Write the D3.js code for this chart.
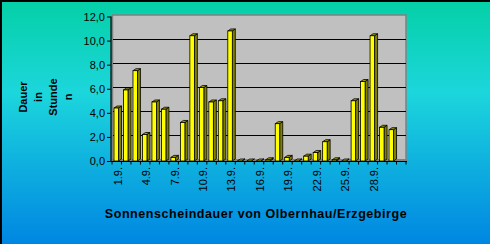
<!DOCTYPE html>
<html>
<head>
<meta charset="utf-8">
<script src="https://cdn.jsdelivr.net/npm/d3@7"></script>
<style>
  body { margin: 0; padding: 0; overflow: hidden; }
  svg { display: block; font-family: "Liberation Sans", Arial, sans-serif; }
</style>
</head>
<body>
<script>
// days of september (31st slot is empty in the original)
const days = ['1.9.', '2.9.', '3.9.', '4.9.', '5.9.', '6.9.', '7.9.', '8.9.', '9.9.', '10.9.',
  '11.9.', '12.9.', '13.9.', '14.9.', '15.9.', '16.9.', '17.9.', '18.9.', '19.9.', '20.9.',
  '21.9.', '22.9.', '23.9.', '24.9.', '25.9.', '26.9.', '27.9.', '28.9.', '29.9.', '30.9.', '']

// sunshine hours per day
const hours = [4.4, 5.9, 7.5, 2.2, 4.9, 4.3, 0.3, 3.2, 10.4, 6.1,
  4.9, 5.0, 10.8, 0.0, 0.0, 0.0, 0.1, 3.1, 0.3, 0.0,
  0.4, 0.7, 1.6, 0.1, 0.0, 5.0, 6.6, 10.4, 2.8, 2.6, null]

const yTicks = [0, 2, 4, 6, 8, 10, 12]
const yTitle = ['Dauer', 'in', 'Stunde', 'n']
const title = 'Sonnenscheindauer von Olbernhau/Erzgebirge'

const w = 490
const h = 244

const svg = d3.select('body')
    .append('svg')
    .attr('width', w)
    .attr('height', h)

// background gradient
const grad = svg.append('defs').append('linearGradient')
    .attr('id', 'bg')
    .attr('x1', 0).attr('y1', 0).attr('x2', 0).attr('y2', 1)
grad.append('stop').attr('offset', '0%').attr('stop-color', '#04d0a6')
grad.append('stop').attr('offset', '38%').attr('stop-color', '#1cd6dc')
grad.append('stop').attr('offset', '100%').attr('stop-color', '#0086e2')

svg.append('rect')
    .attr('width', w).attr('height', h)
    .style('fill', 'url(#bg)')

// black edge on the top and left
svg.append('path')
    .attr('d', `M1,${h} V1 H${w}`)
    .style('fill', 'none')
    .style('stroke', 'black')
    .style('stroke-width', 2)

// scales
const x = d3.scaleBand().domain(days).range([112, 406])
const y = d3.scaleLinear().domain([0, 12]).range([161, 16.5])

const dx = 3, dy = 2

// back wall and floor
svg.append('rect')
    .attr('x', 112.5).attr('y', y(12) - 1.5)
    .attr('width', 406 - 112.5).attr('height', y(0) - y(12) + 1.5)
    .style('fill', '#c0c0c0')
    .style('stroke', '#808080')
    .style('stroke-width', 1.5)
svg.append('rect')
    .attr('x', 111).attr('y', y(12))
    .attr('width', 2).attr('height', y(0) - y(12))
    .style('fill', '#808080')
svg.append('rect')
    .attr('x', 111).attr('y', y(0) - 2)
    .attr('width', 296).attr('height', 2)
    .style('fill', '#808080')

// gridlines
svg.selectAll('line.grid')
    .data(yTicks.filter(d => d > 0 && d < 12))
    .enter()
    .append('line')
    .attr('class', 'grid')
    .attr('x1', 113).attr('x2', 406)
    .attr('y1', d => Math.round(y(d)) - 1.5)
    .attr('y2', d => Math.round(y(d)) - 1.5)
    .style('stroke', 'black')
    .style('stroke-width', 1.2)

// 3d bars
const bars = svg.selectAll('g.bar')
    .data(days.map((d, i) => ({ day: d, v: hours[i] })).filter(d => d.v !== null))
    .enter()
    .append('g')
    .attr('class', 'bar')

const fw = 4.5
bars.append('path')
    .attr('d', d => {
        const x0 = x(d.day) + 2 + fw, yt = y(d.v), yb = y(0)
        return `M${x0},${yt} L${x0 + dx},${yt - dy} L${x0 + dx},${yb - dy} L${x0},${yb} Z`
    })
    .style('fill', '#808000')
    .style('stroke', 'black')
    .style('stroke-width', 0.8)
bars.append('path')
    .attr('d', d => {
        const x0 = x(d.day) + 2, yt = y(d.v)
        return `M${x0},${yt} L${x0 + dx},${yt - dy} L${x0 + fw + dx},${yt - dy} L${x0 + fw},${yt} Z`
    })
    .style('fill', '#a0a000')
    .style('stroke', 'black')
    .style('stroke-width', 0.8)
bars.append('rect')
    .attr('x', d => x(d.day) + 2)
    .attr('y', d => y(d.v))
    .attr('width', fw)
    .attr('height', d => y(0) - y(d.v))
    .style('fill', '#ffff00')
    .style('stroke', 'black')
    .style('stroke-width', 0.8)

// y axis
const yAxis = svg.append('g')
    .attr('transform', 'translate(111,0)')
    .call(d3.axisLeft(y)
        .tickValues(yTicks)
        .tickSize(4)
        .tickPadding(2)
        .tickFormat(d => d.toFixed(1).replace('.', ',')))
yAxis.select('.domain').attr('d', `M0,${y(12)}V${y(0)}`).style('stroke-width', 1.2)
yAxis.selectAll('text')
    .style('font-size', '11px')
    .style('font-family', '"Liberation Sans", Arial, sans-serif')
    .style('fill', 'black')

// x axis
svg.append('line')
    .attr('x1', 111).attr('x2', 407)
    .attr('y1', y(0) + 0.5).attr('y2', y(0) + 0.5)
    .style('stroke', 'black')
    .style('stroke-width', 1.2)
svg.selectAll('line.xtick')
    .data(days.concat(['end']))
    .enter()
    .append('line')
    .attr('class', 'xtick')
    .attr('x1', (d, i) => 112 + i * x.step())
    .attr('x2', (d, i) => 112 + i * x.step())
    .attr('y1', y(0)).attr('y2', y(0) + 3.5)
    .style('stroke', 'black')

svg.selectAll('text.xlab')
    .data(days.filter((d, i) => i % 3 === 0))
    .enter()
    .append('text')
    .attr('class', 'xlab')
    .attr('transform', d => `translate(${x(d) + x.bandwidth() / 2 + 1},${y(0) + 6}) rotate(-90)`)
    .attr('text-anchor', 'end')
    .attr('dy', '0.35em')
    .style('font-size', '11px')
    .text(d => d)

// y axis title
svg.selectAll('text.ytitle')
    .data(yTitle)
    .enter()
    .append('text')
    .attr('class', 'ytitle')
    .attr('transform', (d, i) => `translate(${23 + i * 15},97) rotate(-90)`)
    .attr('text-anchor', 'middle')
    .attr('dy', '0.35em')
    .style('font-size', '11px')
    .style('font-weight', 'bold')
    .text(d => d)

// chart title
svg.append('text')
    .attr('x', 256)
    .attr('y', 218)
    .attr('text-anchor', 'middle')
    .style('font-size', '12.5px')
    .style('font-weight', 'bold')
    .style('letter-spacing', '0.55px')
    .text(title)
</script>
</body>
</html>
